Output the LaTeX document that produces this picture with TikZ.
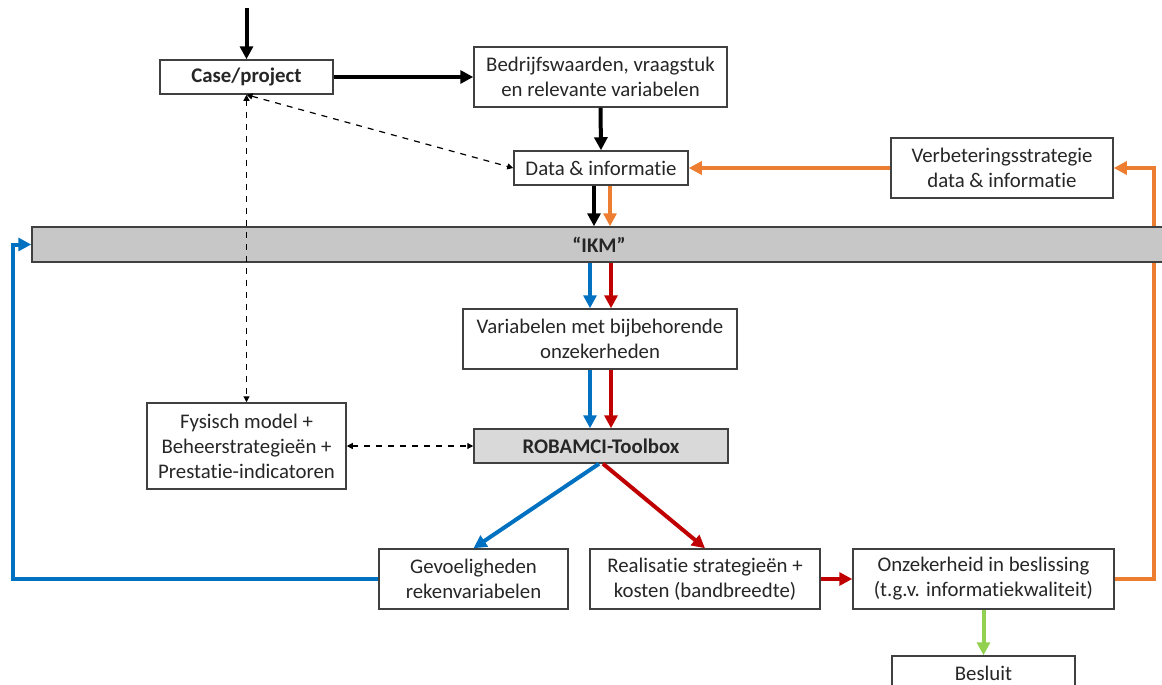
\documentclass[tikz,border=0pt]{standalone}
\usepackage{fontspec}
\setmainfont{Carlito}[Ligatures={TeX,NoCommon,NoContextual}, Contextuals=NoAlternate]
\usetikzlibrary{arrows.meta}
\definecolor{blauw}{HTML}{0070C0}
\definecolor{rood}{HTML}{C00000}
\definecolor{oranje}{HTML}{ED7D31}
\definecolor{groen}{HTML}{92D050}
\definecolor{lijn}{HTML}{404040}
\tikzset{
    blok/.style = {draw=lijn, line width=0.75pt, fill=white, align=center, inner sep=0pt,
                   text=black!85, font=\fontsize{10.4}{12.5}\selectfont},
    grijsblok/.style = {blok, fill=#1, font=\fontsize{10.4}{12.5}\selectfont\bfseries},
    pijl/.style = {line width=2pt, -{Triangle[length=6.5pt,width=6.5pt]}},
    stippel/.style = {dashed, line width=0.6pt, {Triangle[length=3pt,width=3pt]}-{Triangle[length=3pt,width=3pt]}}
}
\begin{document}
\begin{tikzpicture}[x=0.5pt, y=-0.5pt]
    \useasboundingbox (0,0) rectangle (1162,685);
    \node [blok, font=\fontsize{10.4}{12.5}\selectfont\bfseries, minimum width=86.5pt, minimum height=17pt] (case) at (246.5,77) {Case/project};
    \node [blok, minimum width=126.5pt, minimum height=30pt] (bedrijf) at (600.5,77) {Bedrijfswaarden, vraagstuk\\en relevante variabelen};
    \node [blok, minimum width=87pt, minimum height=17pt] (data) at (601,168) {Data \& informatie};
    \node [blok, minimum width=111pt, minimum height=30pt] (verbeter) at (1002,168) {Verbeteringsstrategie\\data \& informatie};
    \node [blok, minimum width=137pt, minimum height=30pt] (var) at (600,339) {Variabelen met bijbehorende\\onzekerheden};
    \node [blok, minimum width=99.5pt, minimum height=43pt] (fys) at (246.5,446) {Fysisch model +\\Beheerstrategieën +\\Prestatie-indicatoren};
    \node [grijsblok=black!15, minimum width=127pt, minimum height=17pt] (robamci) at (601,446) {ROBAMCI-Toolbox};
    \node [blok, minimum width=94.5pt, minimum height=30pt] (gevoel) at (473.5,579) {Gevoeligheden\\rekenvariabelen};
    \node [blok, minimum width=115pt, minimum height=30pt] (realis) at (705,579) {Realisatie strategieën +\\kosten (bandbreedte)};
    \node [blok, minimum width=130.5pt, minimum height=30pt] (onzek) at (983.5,579) {Onzekerheid in beslissing\\(t.g.v. informatiekwaliteit)};
    \node [blok, minimum width=91.5pt, minimum height=17pt] (besluit) at (983.5,673) {Besluit};

    \coordinate (start) at (246.5,8);
    \coordinate (rechts) at (1154,0);
    \coordinate (links) at (12.5,0);
    \coordinate (kb) at (590,0);
    \coordinate (kr) at (611,0);

    \draw [pijl, oranje] (onzek.east) -| (rechts |- verbeter.east) -- (verbeter.east);
    \node [grijsblok=black!22, minimum width=567pt, minimum height=17.5pt] (ikm) at (599,244.5) {“IKM”};

    \draw [pijl] (start) -- (case.north);
    \draw [pijl] (case.east) -- (bedrijf.west);
    \draw [pijl] (bedrijf.south) -- (data.north);
    \draw [pijl] ([xshift=-3.5pt]data.south) -- ([xshift=-3.5pt]data.south |- ikm.north);
    \draw [pijl, oranje] ([xshift=4.5pt]data.south) -- ([xshift=4.5pt]data.south |- ikm.north);
    \draw [pijl, oranje] (verbeter.west) -- (data.east);
    \draw [pijl, blauw] (kb |- ikm.south) -- (kb |- var.north);
    \draw [pijl, rood] (kr |- ikm.south) -- (kr |- var.north);
    \draw [pijl, blauw] (kb |- var.south) -- (kb |- robamci.north);
    \draw [pijl, rood] (kr |- var.south) -- (kr |- robamci.north);
    \draw [pijl, blauw] ([xshift=-1pt]robamci.south) -- (gevoel.north);
    \draw [pijl, rood] ([xshift=1pt]robamci.south) -- (realis.north);
    \draw [pijl, rood] (realis.east) -- (onzek.west);
    \draw [pijl, blauw] (gevoel.west) -| (links |- ikm.west) -- (ikm.west);
    \draw [pijl, groen] (onzek.south) -- (besluit.north);

    \draw [stippel] (case.south) -- (fys.north);
    \draw [stippel] (case.south) -- (data.west);
    \draw [stippel] (fys.east) -- (robamci.west);
\end{tikzpicture}
\end{document}
